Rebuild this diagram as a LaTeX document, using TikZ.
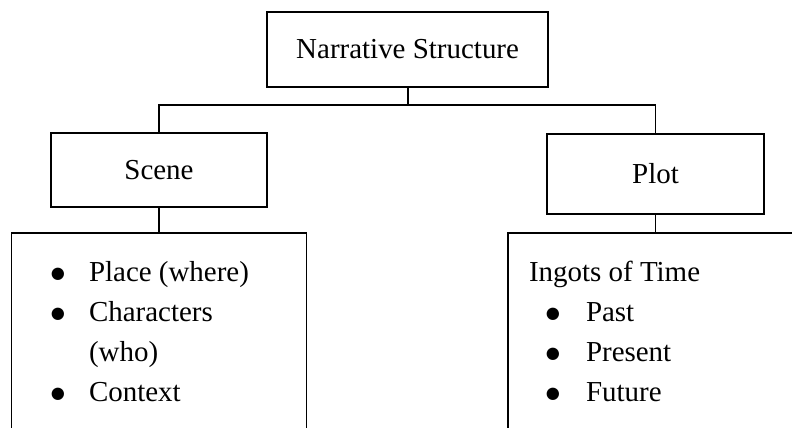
\documentclass[tikz,border=0pt]{standalone}
\usepackage{fontspec}
\setmainfont{Liberation Serif}
\newfontfamily\dotfont{DejaVu Sans}
\usetikzlibrary{positioning}
\newcommand{\itemdot}{\makebox[0.25cm][c]{\raisebox{0.08cm}{\dotfont\fontsize{11.5}{12}\selectfont ●}}}
\begin{document}
\begin{tikzpicture}[line width=1.3pt,
every node/.style={font=\fontsize{20.6}{28.45}\selectfont},
box/.style={draw,inner sep=0pt,minimum width=#1},
listtext/.style={anchor=base west,inner sep=0pt}]
\useasboundingbox (0,0) rectangle (19.8,10.675);
\clip (0,0) rectangle (19.8,10.675);

\node[box=7.025cm,minimum height=1.875cm] (narrative) at (10.19,9.4375) {Narrative Structure};
\node[box=5.4cm,minimum height=1.85cm] (scene) at (3.975,6.425) {Scene};
\node[box=5.425cm,minimum height=2cm] (plot) at (16.3875,6.325) {Plot};

\node[box=7.375cm,minimum height=5cm,below=0.6cm of scene] (scenelist) {};
\node[box=7.375cm,minimum height=5cm,below=0.425cm of plot] (plotlist) {};

\draw (narrative.south) -- ++(0,-0.425) -| (scene.north);
\draw (narrative.south) -- ++(0,-0.425) -| (plot.north);
\draw (scene) -- (scenelist);
\draw (plot) -- (plotlist);

\node[listtext] (sceneitems) at ([xshift=1.0375cm,yshift=-1.25cm]scenelist.north west)
{\begin{tabular}[t]{@{}l@{\hspace{0.65cm}}l@{}}
\itemdot & Place (where)\\
\itemdot & Characters\\
 & (who)\\
\itemdot & Context
\end{tabular}};
\node[listtext] (plotitems) at ([xshift=0.525cm,yshift=-1.25cm]plotlist.north west)
{\begin{tabular}[t]{@{\hspace{0.475cm}}l@{\hspace{0.7cm}}l@{}}
\multicolumn{2}{@{}l@{}}{Ingots of Time}\\
\itemdot & Past\\
\itemdot & Present\\
\itemdot & Future
\end{tabular}};
\end{tikzpicture}
\end{document}
